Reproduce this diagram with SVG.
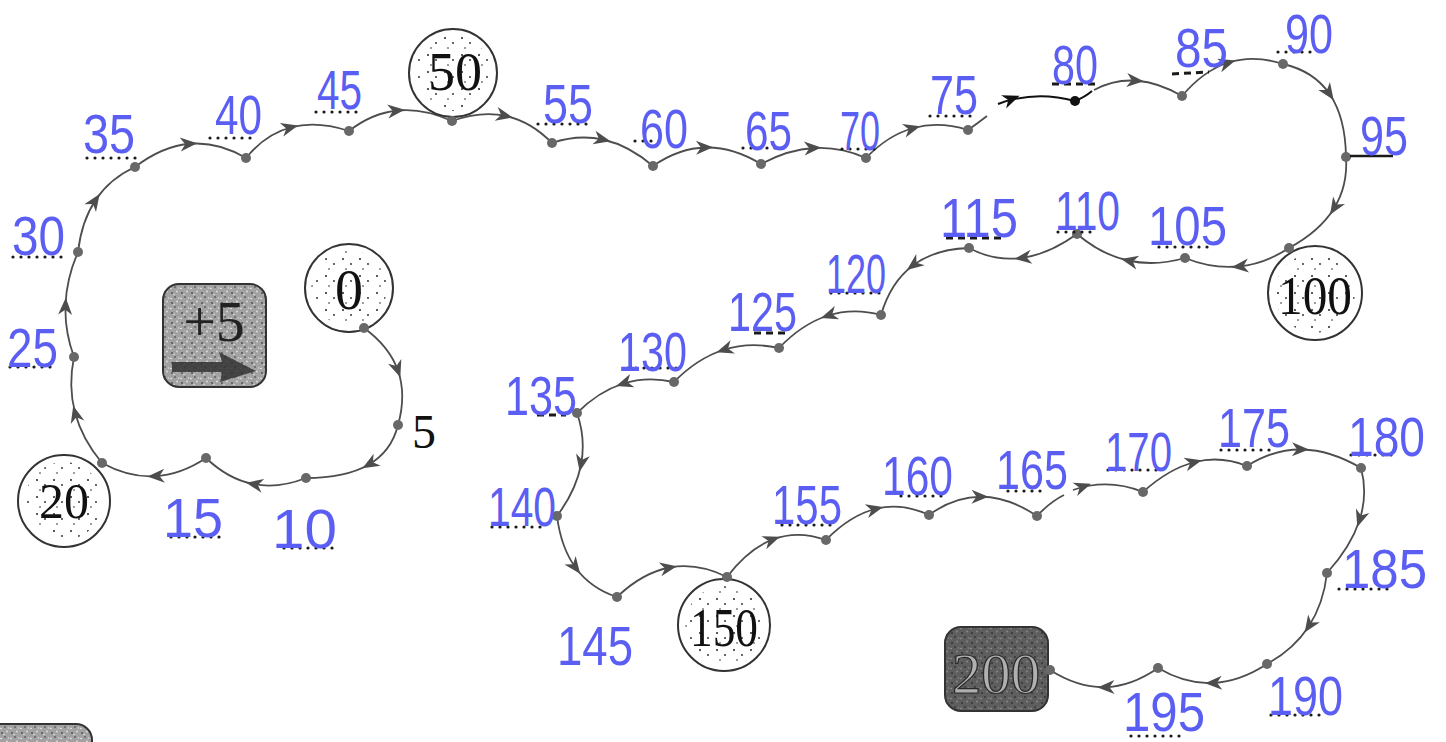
<svg xmlns="http://www.w3.org/2000/svg" width="1446" height="742" viewBox="0 0 1446 742">
<defs>
<style>
.c{fill:none;stroke:#4d4d4d;stroke-width:1.8;marker-mid:url(#ar)}
.s{fill:none;stroke:#4d4d4d;stroke-width:1.8}
.d{fill:#686868}
.l{font-family:"Liberation Sans",Arial,sans-serif;font-size:56px;fill:#5b5ef2}
.u{stroke:#1a1a1a;stroke-width:3.2;stroke-linecap:round;stroke-dasharray:0 8;fill:none}
.ud{stroke:#1a1a1a;stroke-width:3;stroke-dasharray:7 5;fill:none}
.ring{fill:#fff;stroke:#333;stroke-width:2}
.num{font-family:"Liberation Serif","Times New Roman",serif;fill:#111;text-anchor:middle}
</style>
<marker id="ar" markerUnits="userSpaceOnUse" viewBox="-14 -10 28 20" markerWidth="28" markerHeight="20" orient="auto" overflow="visible"><path d="M-10,-7 L7,0 L-10,7 L-5,0 Z" fill="#4d4d4d"/></marker>
<marker id="arB" markerUnits="userSpaceOnUse" viewBox="-12 -10 40 20" markerWidth="40" markerHeight="20" orient="auto" overflow="visible"><path d="M6,-7 L23,0 L6,7 L11,0 Z" fill="#111"/></marker>
<marker id="arG" markerUnits="userSpaceOnUse" viewBox="-12 -10 40 20" markerWidth="40" markerHeight="20" orient="auto" overflow="visible"><path d="M2,-7 L19,0 L2,7 L7,0 Z" fill="#4d4d4d"/></marker>
<pattern id="nz" width="10" height="10" patternUnits="userSpaceOnUse">
<rect width="10" height="10" fill="#a2a2a2"/>
<circle cx="2" cy="3" r="1" fill="#555"/>
<circle cx="7" cy="1.5" r="0.9" fill="#e0e0e0"/>
<circle cx="5" cy="7" r="1.1" fill="#666"/>
<circle cx="8.5" cy="8" r="0.8" fill="#ddd"/>
<circle cx="1" cy="8.5" r="0.8" fill="#f0f0f0"/>
<circle cx="4" cy="4.5" r="0.7" fill="#eee"/>
</pattern>
<pattern id="nzd" width="10" height="10" patternUnits="userSpaceOnUse">
<rect width="10" height="10" fill="#5e5e5e"/>
<circle cx="2" cy="3" r="1" fill="#333"/>
<circle cx="7" cy="1.5" r="0.9" fill="#8a8a8a"/>
<circle cx="5" cy="7" r="1.1" fill="#3a3a3a"/>
<circle cx="8.5" cy="8" r="0.8" fill="#888"/>
<circle cx="1" cy="8.5" r="0.8" fill="#999"/>
</pattern>
<pattern id="st" width="17" height="17" patternUnits="userSpaceOnUse">
<circle cx="3" cy="4" r="1" fill="#222"/>
<circle cx="11" cy="9" r="0.9" fill="#222"/>
<circle cx="6" cy="14" r="0.8" fill="#222"/>
</pattern>
</defs>
<rect width="1446" height="742" fill="#fff"/>

<g id="connectors">
<path class="c" d="M364,328 Q389.5,346.5 398,370.75 Q406.5,395 398,425"/>
<path class="c" d="M398,425 Q391.5,451.5 368.5,464.75 Q345.5,478 306,478"/>
<path class="c" d="M306,478 Q278,489 253,484 Q228,479 206,458"/>
<path class="c" d="M206,458 Q180.5,475 154.5,476.25 Q128.5,477.5 102,463"/>
<path class="c" d="M102,463 Q82,439 75,412.5 Q68,386 74,357"/>
<path class="c" d="M74,357 Q64.5,331 65.5,304.75 Q66.5,278.5 78,252"/>
<path class="c" d="M78,252 Q81.5,221 95.75,199.75 Q110,178.5 135,167"/>
<path class="c" d="M135,167 Q162.5,146 190.25,143.75 Q218,141.5 246,158"/>
<path class="c" d="M246,158 Q265.5,134 291.25,127.25 Q317,120.5 349,131"/>
<path class="c" d="M349,131 Q372,113 397.75,110.5 Q423.5,108 452,121"/>
<path class="c" d="M452,121 Q481,110.5 506,116 Q531,121.5 552,143"/>
<path class="c" d="M552,143 Q578.5,134 603.75,139.75 Q629,145.5 653,166"/>
<path class="c" d="M653,166 Q679,148 706,147.5 Q733,147 761,164"/>
<path class="c" d="M761,164 Q788,149.5 814.25,148 Q840.5,146.5 866,158"/>
<path class="c" d="M866,158 Q888,135 913.5,128 Q939,121 968,130"/>
<path class="s" d="M968,130 Q978,123 987,116"/>
<path d="M998,104 Q1035,90 1075,101 Q1085,97 1092,91" fill="none" stroke="#111" stroke-width="2" marker-start="url(#arB)"/>
<path class="c" d="M1094,90 Q1114.5,79 1136.75,80.75 Q1159,82.5 1182,96"/>
<path class="c" d="M1182,96 Q1203.5,70.5 1228.75,62.5 Q1254,54.5 1283,64"/>
<path class="c" d="M1283,64 Q1314,71 1329.75,94.25 Q1345.5,117.5 1346,157"/>
<path class="c" d="M1346,157 Q1348,186 1333.75,208.75 Q1319.5,231.5 1289,248"/>
<path class="c" d="M1289,248 Q1264.5,264 1238.5,266.5 Q1212.5,269 1185,258"/>
<path class="c" d="M1185,258 Q1155,266.5 1128,260.5 Q1101,254.5 1077,234"/>
<path class="c" d="M1077,234 Q1048.5,254.5 1021.5,258 Q994.5,261.5 969,248"/>
<path class="c" d="M969,248 Q934.5,249 912.5,265.75 Q890.5,282.5 881,315"/>
<path class="c" d="M881,315 Q853,307.5 827.5,315.75 Q802,324 779,348"/>
<path class="c" d="M779,348 Q749.5,341.5 723.25,350 Q697,358.5 674,382"/>
<path class="c" d="M674,382 Q647,376 622.75,383.75 Q598.5,391.5 577,413"/>
<path class="c" d="M577,413 Q586,439 581,464.75 Q576,490.5 557,516"/>
<path class="c" d="M557,516 Q561,548 576,568.25 Q591,588.5 617,597"/>
<path class="c" d="M617,597 Q642.5,572.5 670,567.5 Q697.5,562.5 727,577"/>
<path class="c" d="M727,577 Q748.5,548.5 773.25,539.25 Q798,530 826,540"/>
<path class="c" d="M826,540 Q850.5,515 876.25,508.75 Q902,502.5 929,515"/>
<path class="c" d="M929,515 Q954.5,496.5 981.5,496.75 Q1008.5,497 1037,516"/>
<path class="s" d="M1037,516 Q1050,502 1064,495"/>
<path class="s" d="M1073,490 Q1108,478 1143,492" marker-start="url(#arG)"/>
<path class="c" d="M1143,492 Q1169,468.5 1195,462 Q1221,455.5 1247,466"/>
<path class="c" d="M1247,466 Q1273.5,449 1302,449.5 Q1330.5,450 1361,468"/>
<path class="c" d="M1361,468 Q1368,494 1359.5,520.25 Q1351,546.5 1327,573"/>
<path class="c" d="M1327,573 Q1323.5,604 1308.5,626.75 Q1293.5,649.5 1267,664"/>
<path class="c" d="M1267,664 Q1239.5,682 1212,683 Q1185,684 1158,668"/>
<path class="c" d="M1158,668 Q1131.5,686.5 1104.5,687.25 Q1077.5,687.5 1050,670"/>
</g>

<g id="rule">
<rect x="163" y="284" width="103" height="103" rx="16" fill="url(#nz)" stroke="#333" stroke-width="2"/>
<text class="num" x="214" y="341" font-size="58" style="fill:#222">+5</text>
<path d="M172,362 L222,362 L219,352 L256,371 L220,382 L222,372 L172,372 Z" fill="#333" opacity="0.85"/>
</g>

<g id="n0">
<circle class="ring" cx="349" cy="288" r="44"/>
<circle cx="349" cy="288" r="38" fill="url(#st)"/>
<text class="num" x="349" y="309" font-size="56">0</text>
<circle class="d" cx="364" cy="328" r="5"/>
</g>
<g id="n5"><circle class="d" cx="398" cy="425" r="5"/><text class="num" x="424" y="448" font-size="48">5</text></g>
<g id="n10"><circle class="d" cx="306" cy="478" r="5"/><line class="u" x1="284" y1="548" x2="336" y2="548"/><text class="l" x="272" y="548" textLength="65" lengthAdjust="spacingAndGlyphs">10</text></g>
<g id="n15"><circle class="d" cx="206" cy="458" r="5"/><line class="u" x1="171" y1="537" x2="222" y2="537"/><text class="l" x="163" y="537" textLength="60" lengthAdjust="spacingAndGlyphs">15</text></g>
<g id="n20">
<circle class="ring" cx="64" cy="501" r="46"/>
<circle cx="64" cy="501" r="39" fill="url(#st)"/>
<text class="num" x="64" y="518" font-size="50">20</text>
<circle class="d" cx="102" cy="463" r="5"/>
</g>
<g id="n25"><circle class="d" cx="74" cy="357" r="5"/><line class="u" x1="10" y1="367" x2="58" y2="367"/><text class="l" x="7" y="367" textLength="51" lengthAdjust="spacingAndGlyphs">25</text></g>
<g id="n30"><circle class="d" cx="78" cy="252" r="5"/><line class="u" x1="13" y1="257" x2="64" y2="257"/><text class="l" x="12" y="255" textLength="53" lengthAdjust="spacingAndGlyphs">30</text></g>
<g id="n35"><circle class="d" cx="135" cy="167" r="5"/><line class="u" x1="87" y1="158" x2="138" y2="158"/><text class="l" x="83" y="153" textLength="52" lengthAdjust="spacingAndGlyphs">35</text></g>
<g id="n40"><circle class="d" cx="246" cy="158" r="5"/><line class="u" x1="210" y1="138" x2="258" y2="138"/><text class="l" x="215" y="134" textLength="47" lengthAdjust="spacingAndGlyphs">40</text></g>
<g id="n45"><circle class="d" cx="349" cy="131" r="5"/><line class="u" x1="316" y1="112" x2="362" y2="112"/><text class="l" x="317" y="109" textLength="45" lengthAdjust="spacingAndGlyphs">45</text></g>
<g id="n50">
<circle class="ring" cx="453" cy="73" r="44"/>
<circle cx="453" cy="73" r="38" fill="url(#st)"/>
<text class="num" x="455" y="90" font-size="54">50</text>
<circle class="d" cx="452" cy="121" r="5"/>
</g>
<g id="n55"><circle class="d" cx="552" cy="143" r="5"/><line class="u" x1="538" y1="124" x2="588" y2="124"/><text class="l" x="543" y="123" textLength="50" lengthAdjust="spacingAndGlyphs">55</text></g>
<g id="n60"><circle class="d" cx="653" cy="166" r="5"/><line class="u" x1="635" y1="141" x2="667" y2="141"/><text class="l" x="640" y="148" textLength="48" lengthAdjust="spacingAndGlyphs">60</text></g>
<g id="n65"><circle class="d" cx="761" cy="164" r="5"/><line class="u" x1="743" y1="148" x2="783" y2="148"/><text class="l" x="745" y="150" textLength="47" lengthAdjust="spacingAndGlyphs">65</text></g>
<g id="n70"><circle class="d" cx="866" cy="158" r="5"/><line class="u" x1="842" y1="149" x2="878" y2="149"/><text class="l" x="840" y="150" textLength="40" lengthAdjust="spacingAndGlyphs">70</text></g>
<g id="n75"><circle class="d" cx="968" cy="130" r="5"/><line class="u" x1="930" y1="116" x2="974" y2="116"/><text class="l" x="930" y="114" textLength="48" lengthAdjust="spacingAndGlyphs">75</text></g>
<g id="n80"><circle cx="1075" cy="101" r="5" fill="#111"/><line class="ud" x1="1052" y1="84" x2="1095" y2="84"/><text class="l" x="1052" y="84" textLength="46" lengthAdjust="spacingAndGlyphs">80</text></g>
<g id="n85"><circle class="d" cx="1182" cy="96" r="5"/><line class="ud" x1="1172" y1="74" x2="1209" y2="72"/><text class="l" x="1175" y="67" textLength="53" lengthAdjust="spacingAndGlyphs">85</text></g>
<g id="n90"><circle class="d" cx="1283" cy="64" r="5"/><line class="u" x1="1278" y1="52" x2="1312" y2="52"/><text class="l" x="1285" y="53" textLength="48" lengthAdjust="spacingAndGlyphs">90</text></g>
<g id="n95"><circle class="d" cx="1346" cy="157" r="5"/><line x1="1350" y1="156" x2="1393" y2="156" stroke="#1a1a1a" stroke-width="2.5"/><text class="l" x="1360" y="155" textLength="48" lengthAdjust="spacingAndGlyphs">95</text></g>
<g id="n100">
<circle class="ring" cx="1315" cy="293" r="47"/>
<circle cx="1315" cy="293" r="40" fill="url(#st)"/>
<text class="num" x="1315" y="314" font-size="54" textLength="74" lengthAdjust="spacingAndGlyphs">100</text>
<circle class="d" cx="1289" cy="248" r="5"/>
</g>
<g id="n105"><circle class="d" cx="1185" cy="258" r="5"/><line class="u" x1="1159" y1="247" x2="1210" y2="247"/><text class="l" x="1148" y="245" textLength="79" lengthAdjust="spacingAndGlyphs">105</text></g>
<g id="n110"><circle class="d" cx="1077" cy="234" r="5"/><line class="u" x1="1058" y1="232" x2="1094" y2="232"/><text class="l" x="1055" y="230" textLength="65" lengthAdjust="spacingAndGlyphs">110</text></g>
<g id="n115"><circle class="d" cx="969" cy="248" r="5"/><line class="ud" x1="946" y1="238" x2="1002" y2="238"/><text class="l" x="940" y="237" textLength="78" lengthAdjust="spacingAndGlyphs">115</text></g>
<g id="n120"><circle class="d" cx="881" cy="315" r="5"/><line class="u" x1="831" y1="293" x2="880" y2="293"/><text class="l" x="826" y="293" textLength="60" lengthAdjust="spacingAndGlyphs">120</text></g>
<g id="n125"><circle class="d" cx="779" cy="348" r="5"/><line class="ud" x1="754" y1="333" x2="785" y2="333"/><text class="l" x="728" y="331" textLength="69" lengthAdjust="spacingAndGlyphs">125</text></g>
<g id="n130"><circle class="d" cx="674" cy="382" r="5"/><line class="u" x1="628" y1="368" x2="678" y2="368"/><text class="l" x="618" y="371" textLength="69" lengthAdjust="spacingAndGlyphs">130</text></g>
<g id="n135"><circle class="d" cx="577" cy="413" r="5"/><line class="ud" x1="537" y1="415" x2="566" y2="415"/><text class="l" x="505" y="415" textLength="72" lengthAdjust="spacingAndGlyphs">135</text></g>
<g id="n140"><circle class="d" cx="557" cy="516" r="5"/><line class="u" x1="492" y1="527" x2="548" y2="527"/><text class="l" x="488" y="526" textLength="68" lengthAdjust="spacingAndGlyphs">140</text></g>
<g id="n145"><circle class="d" cx="617" cy="597" r="5"/><text class="l" x="557" y="665" textLength="76" lengthAdjust="spacingAndGlyphs">145</text></g>
<g id="n150">
<circle class="ring" cx="724" cy="625" r="46"/>
<circle cx="724" cy="625" r="39" fill="url(#st)"/>
<text class="num" x="724" y="646" font-size="54" textLength="68" lengthAdjust="spacingAndGlyphs">150</text>
<circle class="d" cx="727" cy="577" r="5"/>
</g>
<g id="n155"><circle class="d" cx="826" cy="540" r="5"/><line class="u" x1="782" y1="525" x2="836" y2="525"/><text class="l" x="772" y="524" textLength="70" lengthAdjust="spacingAndGlyphs">155</text></g>
<g id="n160"><circle class="d" cx="929" cy="515" r="5"/><line class="u" x1="901" y1="496" x2="949" y2="496"/><text class="l" x="882" y="495" textLength="71" lengthAdjust="spacingAndGlyphs">160</text></g>
<g id="n165"><circle class="d" cx="1037" cy="516" r="5"/><line class="u" x1="1008" y1="491" x2="1041" y2="491"/><text class="l" x="996" y="489" textLength="72" lengthAdjust="spacingAndGlyphs">165</text></g>
<g id="n170"><circle class="d" cx="1143" cy="492" r="5"/><line class="u" x1="1108" y1="470" x2="1160" y2="470"/><text class="l" x="1105" y="471" textLength="67" lengthAdjust="spacingAndGlyphs">170</text></g>
<g id="n175"><circle class="d" cx="1247" cy="466" r="5"/><line class="u" x1="1221" y1="450" x2="1272" y2="450"/><text class="l" x="1218" y="447" textLength="72" lengthAdjust="spacingAndGlyphs">175</text></g>
<g id="n180"><circle class="d" cx="1361" cy="468" r="5"/><line class="u" x1="1351" y1="455" x2="1398" y2="455"/><text class="l" x="1348" y="456" textLength="77" lengthAdjust="spacingAndGlyphs">180</text></g>
<g id="n185"><circle class="d" cx="1327" cy="573" r="5"/><line class="u" x1="1339" y1="589" x2="1388" y2="589"/><text class="l" x="1342" y="588" textLength="85" lengthAdjust="spacingAndGlyphs">185</text></g>
<g id="n190"><circle class="d" cx="1267" cy="664" r="5"/><line class="u" x1="1271" y1="715" x2="1322" y2="715"/><text class="l" x="1268" y="715" textLength="75" lengthAdjust="spacingAndGlyphs">190</text></g>
<g id="n195"><circle class="d" cx="1158" cy="668" r="5"/><line class="u" x1="1131" y1="736" x2="1182" y2="736"/><text class="l" x="1123" y="731" textLength="82" lengthAdjust="spacingAndGlyphs">195</text></g>
<g id="n200">
<rect x="945" y="627" width="103" height="84" rx="16" fill="url(#nzd)" stroke="#333" stroke-width="2"/>
<text class="num" x="996" y="693" font-size="56" textLength="88" lengthAdjust="spacingAndGlyphs" style="fill:#b0b0b0;stroke:#2a2a2a;stroke-width:1.2">200</text>
<circle class="d" cx="1050" cy="670" r="5"/>
</g>
<g id="partial">
<rect x="-20" y="724" width="112" height="40" rx="16" fill="url(#nz)" stroke="#333" stroke-width="2"/>
</g>
</svg>
